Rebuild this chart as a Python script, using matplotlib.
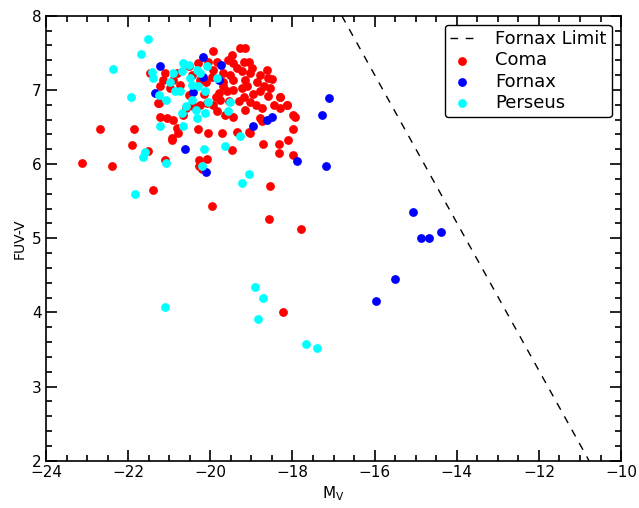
import matplotlib
matplotlib.use("Agg")
import matplotlib.pyplot as plt
from matplotlib.ticker import MultipleLocator

# Fornax limit line (end points)
limit_x = [-16.8, -10.78]
limit_y = [8.0, 2.0]

coma_x = [
    -19.93, -19.27, -19.15, -19.48, -19.84, -20.05, -20.29, -19.19, -19.44, -19.56,
    -18.99, -18.63, -19.03, -18.79, -18.50, -19.68, -19.52, -19.24, -19.93, -20.53,
    -20.82, -21.10, -21.47, -21.14, -20.90, -20.25, -19.97, -19.68, -19.44, -19.15,
    -18.87, -18.59, -18.79, -18.55, -18.59, -18.30, -18.46, -18.14, -18.30, -18.75,
    -19.03, -19.19, -19.24, -19.44, -19.60, -19.80, -19.76, -19.93, -20.09, -20.25,
    -19.84, -19.64, -19.44, -19.15, -18.79, -18.75, -17.98, -17.94, -17.98, -18.10,
    -18.34, -18.34, -18.71, -17.98, -19.03, -19.48, -19.72, -20.05, -20.29, -21.22,
    -21.06, -20.90, -20.66, -20.82, -20.94, -20.78, -21.27, -21.22, -20.98, -20.74,
    -20.53, -20.41, -22.69, -21.86, -21.91, -21.51, -21.10, -23.13, -22.40, -20.27,
    -20.09, -20.27, -18.55, -21.39, -19.95, -18.56, -17.79, -18.24, -18.14, -18.30,
    -19.36, -19.10, -18.95, -19.70, -20.10, -20.45, -19.30, -18.90, -19.55, -20.60,
    -19.05, -18.70, -19.85, -20.15, -19.07, -19.36, -20.21, -21.26, -20.94,
]
coma_y = [
    7.53, 7.56, 7.57, 7.47, 7.38, 7.38, 7.36, 7.38, 7.36, 7.41,
    7.29, 7.27, 7.23, 7.20, 7.15, 7.23, 7.20, 7.25, 7.27, 7.32,
    7.23, 7.23, 7.23, 7.14, 7.14, 7.14, 7.17, 7.11, 7.14, 7.14,
    7.11, 7.16, 6.98, 7.02, 6.92, 6.91, 6.80, 6.80, 6.75, 6.75,
    6.84, 6.91, 7.02, 7.00, 6.98, 6.96, 6.87, 6.80, 6.82, 6.80,
    6.71, 6.66, 6.64, 6.73, 6.62, 6.58, 6.66, 6.64, 6.47, 6.33,
    6.27, 6.15, 6.27, 6.12, 6.42, 6.19, 6.42, 6.42, 6.47, 6.64,
    6.62, 6.60, 6.66, 6.48, 6.35, 6.42, 6.83, 7.05, 7.02, 7.07,
    6.93, 6.78, 6.47, 6.47, 6.26, 6.17, 6.06, 6.01, 5.98, 6.06,
    6.07, 5.97, 5.71, 5.65, 5.44, 5.26, 5.12, 4.01, 6.80, 6.91,
    7.30, 7.05, 6.95, 7.05, 7.10, 7.20, 6.85, 6.80, 6.85, 6.75,
    7.38, 7.05, 6.90, 6.95, 6.43, 6.43, 5.94, 6.82, 6.33,
]

fornax_x = [
    -20.17, -21.22, -19.74, -20.18, -19.78, -21.35, -20.41, -18.51, -18.61, -18.95,
    -20.61, -20.11, -17.10, -17.27, -17.90, -17.19, -15.06, -14.88, -14.68, -14.39,
    -15.50, -15.97,
]
fornax_y = [
    7.44, 7.32, 7.33, 7.18, 7.13, 6.96, 6.97, 6.63, 6.59, 6.51,
    6.21, 5.90, 6.89, 6.66, 6.04, 5.98, 5.36, 5.01, 5.00, 5.09,
    4.45, 4.16,
]

perseus_x = [
    -21.51, -21.69, -22.36, -21.94, -21.43, -21.39, -21.25, -21.08, -20.98, -20.90,
    -20.86, -20.74, -20.70, -20.67, -20.53, -20.49, -20.45, -20.45, -20.58, -20.70,
    -20.33, -20.25, -20.29, -20.13, -20.09, -20.05, -19.84, -20.35, -20.32, -20.13,
    -19.52, -19.56, -21.22, -20.66, -19.28, -20.15, -19.64, -21.59, -21.63, -21.08,
    -20.21, -19.05, -19.24, -21.83, -18.91, -18.71, -21.10, -18.85, -17.68, -17.41,
]
perseus_y = [
    7.68, 7.49, 7.28, 6.90, 7.24, 7.16, 6.93, 6.87, 7.11, 7.23,
    6.98, 6.98, 7.25, 7.36, 7.34, 7.16, 7.07, 6.87, 6.78, 6.69,
    7.27, 7.23, 7.05, 6.98, 7.32, 6.84, 7.16, 6.73, 6.62, 6.69,
    6.84, 6.71, 6.51, 6.51, 6.38, 6.20, 6.25, 6.16, 6.09, 6.01,
    5.97, 5.86, 5.75, 5.60, 4.34, 4.19, 4.07, 3.91, 3.58, 3.52,
]

fig = plt.figure(figsize=(6.39, 5.08), dpi=100)
ax = fig.add_axes([0.072, 0.093, 0.900, 0.876])

ax.plot(limit_x, limit_y, color="black", lw=1.0, dashes=(5.5, 5.5), label="Fornax Limit")
ax.scatter(coma_x, coma_y, s=40, color="#ff0000", linewidths=0, label="Coma")
ax.scatter(fornax_x, fornax_y, s=40, color="#0000ff", linewidths=0, label="Fornax")
ax.scatter(perseus_x, perseus_y, s=40, color="#00ffff", linewidths=0, label="Perseus")

ax.set_xlim(-24, -10)
ax.set_ylim(2, 8)
ax.xaxis.set_major_locator(MultipleLocator(2))
ax.xaxis.set_minor_locator(MultipleLocator(0.5))
ax.yaxis.set_major_locator(MultipleLocator(1))
ax.yaxis.set_minor_locator(MultipleLocator(0.2))
ax.tick_params(which="both", direction="in", top=True, right=True, width=1.2,
               labelsize=11, pad=3)
ax.tick_params(which="major", length=8)
ax.tick_params(which="minor", length=4)
for sp in ax.spines.values():
    sp.set_linewidth(1.2)

ax.set_xlabel(r"M$_\mathregular{V}$", fontsize=11, labelpad=3)
ax.set_ylabel("FUV-V", fontsize=10, labelpad=4)

leg = ax.legend(loc="upper right", fontsize=13, scatterpoints=1, handlelength=1.3,
                handletextpad=1.2, fancybox=True, framealpha=1, borderaxespad=0.5,
                labelspacing=0.18, borderpad=0.3)
leg.get_frame().set_edgecolor("black")
leg.get_frame().set_linewidth(1.0)

fig.savefig("out.png", dpi=100)
